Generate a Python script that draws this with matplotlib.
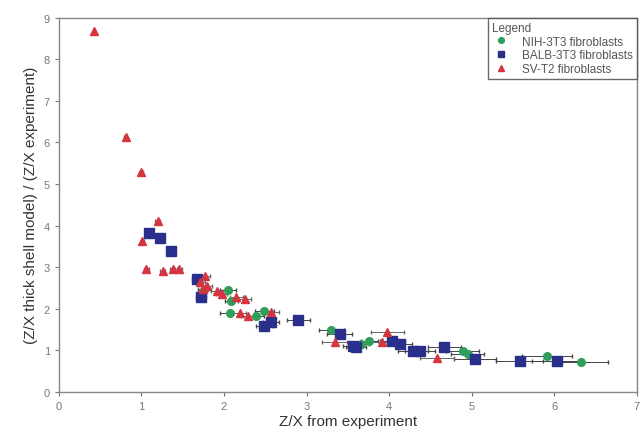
import matplotlib
matplotlib.use('Agg')
import matplotlib.pyplot as plt
import numpy as np

plt.rcParams['font.family'] = ['Liberation Sans', 'DejaVu Sans']

# NIH-3T3 fibroblasts
nih_x = [1.76, 2.05, 2.09, 2.07, 2.39, 2.49, 3.30, 3.66, 3.76, 4.89, 4.95, 5.91, 6.33]
nih_y = [2.45, 2.45, 2.19, 1.90, 1.83, 1.95, 1.49, 1.15, 1.23, 0.99, 0.91, 0.87, 0.72]
nih_xerr = [0.08, 0.10, 0.08, 0.12, 0.10, 0.12, 0.15, 0.10, 0.10, 0.20, 0.20, 0.30, 0.32]

# BALB-3T3 fibroblasts
balb_x = [1.09, 1.23, 1.36, 1.67, 1.72, 2.49, 2.57, 2.90, 3.40, 3.56, 3.60, 4.04, 4.13,
          4.29, 4.37, 4.67, 5.04, 5.58, 6.03]
balb_y = [3.82, 3.70, 3.39, 2.72, 2.28, 1.59, 1.68, 1.73, 1.39, 1.10, 1.08, 1.23, 1.15,
          0.98, 0.98, 1.08, 0.79, 0.75, 0.73]
balb_xerr = [0.03, 0.03, 0.03, 0.06, 0.06, 0.10, 0.10, 0.14, 0.15, 0.12, 0.12, 0.15, 0.15,
             0.18, 0.18, 0.20, 0.25, 0.28, 0.30]

# SV-T2 fibroblasts
sv_x = [0.42, 0.81, 1.00, 1.20, 1.01, 1.06, 1.26, 1.38, 1.46, 1.77, 1.71, 1.79, 1.75,
        1.91, 1.97, 2.15, 2.25, 2.19, 2.29, 2.57, 3.34, 3.98, 3.91, 4.58]
sv_y = [8.68, 6.13, 5.29, 4.10, 3.63, 2.96, 2.91, 2.95, 2.95, 2.79, 2.64, 2.55, 2.48,
        2.43, 2.36, 2.28, 2.24, 1.90, 1.83, 1.92, 1.20, 1.44, 1.20, 0.82]
sv_xerr = [0.0, 0.02, 0.02, 0.03, 0.02, 0.03, 0.03, 0.03, 0.03, 0.06, 0.06, 0.06, 0.06,
           0.07, 0.07, 0.08, 0.08, 0.08, 0.08, 0.10, 0.15, 0.20, 0.18, 0.20]

fig, ax = plt.subplots(figsize=(6.4, 4.35), dpi=100)
fig.subplots_adjust(left=0.092, right=0.995, top=0.957, bottom=0.097)

c1 = ax.errorbar(nih_x, nih_y, xerr=nih_xerr, fmt='o', color='#2e9e5a', ecolor='#444444',
                 elinewidth=0.7, capsize=1.5, markersize=5.5, label='NIH-3T3 fibroblasts', zorder=3)
c2 = ax.errorbar(balb_x, balb_y, xerr=balb_xerr, fmt='s', color='#2b2f8c', ecolor='#444444',
                 elinewidth=0.7, capsize=1.5, markersize=6.5, label='BALB-3T3 fibroblasts', zorder=3)
c3 = ax.errorbar(sv_x, sv_y, xerr=sv_xerr, fmt='^', color='#d6343f', ecolor='#666666',
                 elinewidth=0.7, capsize=1.5, markersize=5.5, label='SV-T2 fibroblasts', zorder=3)

ax.set_xlim(0, 7)
ax.set_ylim(0, 9)
ax.set_xticks(range(0, 8))
ax.set_yticks(range(0, 10))
ax.tick_params(labelsize=8, labelcolor='#777777', color='#777777', length=3)
for s in ax.spines.values():
    s.set_color('#888888')
    s.set_linewidth(1.0)

ax.set_xlabel('Z/X from experiment', fontsize=11, color='#333333', labelpad=2)
ax.set_ylabel('(Z/X thick shell model) / (Z/X experiment)', fontsize=11, color='#333333',
              labelpad=4)

handles = [c1[0], c2[0], c3[0]]
labels = ['NIH-3T3 fibroblasts', 'BALB-3T3 fibroblasts', 'SV-T2 fibroblasts']
leg = ax.legend(handles, labels, title='Legend', loc='upper right', fontsize=8.5,
                title_fontsize=8.5, frameon=True, fancybox=False, borderaxespad=0,
                handletextpad=1.0, borderpad=0.35, labelspacing=0.15, handlelength=1.5,
                markerscale=0.75)
leg._legend_box.align = 'left'
leg.get_frame().set_edgecolor('#444444')
leg.get_frame().set_linewidth(1.0)
for t in leg.get_texts():
    t.set_color('#555555')
leg.get_title().set_color('#555555')

fig.savefig('out.png')
